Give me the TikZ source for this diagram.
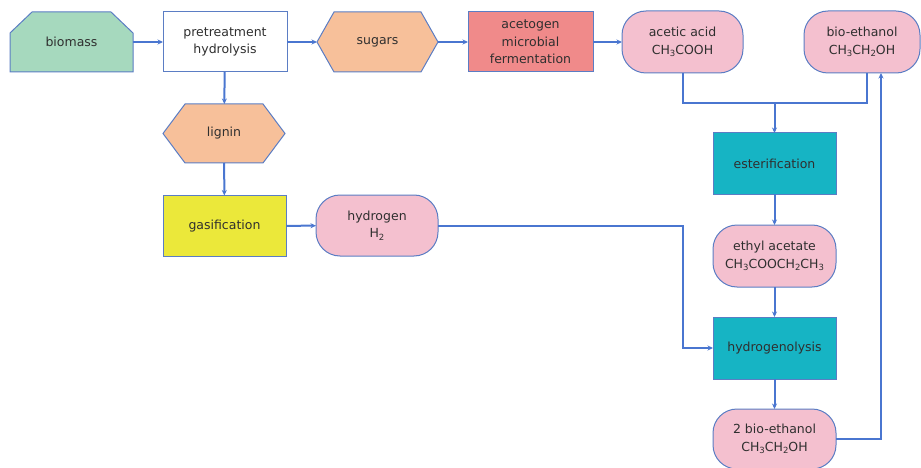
\documentclass[tikz,border=0pt]{standalone}
\usepackage{fontspec}
\setmainfont{DejaVu Sans}
\usetikzlibrary{arrows.meta,calc}
\pgfdeclarelayer{background}
\pgfsetlayers{background,main}

\definecolor{flowline}{HTML}{4A76D0}
\definecolor{edgeblue}{HTML}{5B7DC4}
\definecolor{txt}{HTML}{2F2F2F}
\definecolor{feedgreen}{HTML}{A6D9BE}
\definecolor{prodorange}{HTML}{F7C09A}
\definecolor{fermcoral}{HTML}{F08A8A}
\definecolor{chempink}{HTML}{F4C0CF}
\definecolor{gasyellow}{HTML}{EBE83A}
\definecolor{reactteal}{HTML}{16B4C4}

\newcommand\chs[1]{\raisebox{-0.4ex}{\fontsize{8.5}{9}\selectfont#1}}

% outline of a stretched hexagon around node #1 with tip depth #2, fill #3
\newcommand\hexoutline[3]{%
  \begin{pgfonlayer}{background}
  \filldraw[fill=#3,draw=edgeblue,line width=1pt]
    ([xshift=#2]#1.north west) -- ([xshift=-#2]#1.north east) -- (#1.east)
    -- ([xshift=-#2]#1.south east) -- ([xshift=#2]#1.south west) -- (#1.west) -- cycle;
  \end{pgfonlayer}}

\tikzset{
  lbl/.style={font=\fontsize{12.5}{17.5}\selectfont, text=txt, align=center,
    inner sep=0pt, outer sep=0pt},
  boxnode/.style={lbl, rectangle, draw=edgeblue, line width=1pt,
    minimum width=123pt, minimum height=61pt},
  pillnode/.style={boxnode, rounded corners=24pt, fill=chempink},
  bare/.style={lbl, rectangle, minimum height=60pt},
  flow/.style={draw=flowline, line width=2pt,
    -{Stealth[length=5.5pt,width=5pt]}},
  link/.style={draw=flowline, line width=2pt}
}

\begin{document}
\begin{tikzpicture}[x=1pt,y=-1pt]
\useasboundingbox (0,0) rectangle (921,468);

% top row
\node[bare, minimum width=123pt] (biomass) at (71.5,42) {biomass};
\begin{pgfonlayer}{background}
\filldraw[fill=feedgreen,draw=edgeblue,line width=1pt]
  ([xshift=22pt]biomass.north west) -- ([xshift=-22pt]biomass.north east)
  -- ([yshift=-21pt]biomass.north east) -- (biomass.south east)
  -- (biomass.south west) -- ([yshift=-21pt]biomass.north west) -- cycle;
\end{pgfonlayer}

\node[boxnode, fill=white, minimum width=124pt, minimum height=60pt] (pretreat) at (225,42)
  {pretreatment\\hydrolysis};
\node[bare, minimum width=121pt] (sugars) at (377.5,42) {sugars};
\hexoutline{sugars}{17pt}{prodorange}
\node[boxnode, fill=fermcoral, minimum width=125pt, minimum height=60pt] (acetogen) at (530.5,42)
  {acetogen\\microbial\\fermentation};
\node[pillnode, minimum width=121pt, minimum height=62pt] (acetic) at (682.5,42)
  {acetic acid\\CH\chs{3}COOH};
\node[pillnode, minimum width=116pt, minimum height=62pt] (bioeth) at (862,42)
  {bio-ethanol\\CH\chs{3}CH\chs{2}OH};

% left branch
\node[bare, minimum width=122pt, minimum height=59pt] (lignin) at (224,133.5) {lignin};
\hexoutline{lignin}{22pt}{prodorange}
\node[boxnode, fill=gasyellow] (gasif) at (224.5,226) {gasification};
\node[pillnode, minimum width=122pt] (hydrogen) at (377,225.5) {hydrogen\\H\chs{2}};

% right column
\node[boxnode, fill=reactteal] (ester) at (774.5,163.5) {esterification};
\node[pillnode, minimum height=62pt] (ethyl) at (774.5,256)
  {ethyl acetate\\CH\chs{3}COOCH\chs{2}CH\chs{3}};
\node[boxnode, fill=reactteal, minimum height=62pt] (hydrogenol) at (774.5,348) {hydrogenolysis};
\node[pillnode, minimum height=60pt] (twobio) at (774.5,439)
  {2 bio-ethanol\\CH\chs{3}CH\chs{2}OH};

% connectors
\draw[flow] (biomass) -- (pretreat);
\draw[flow] (pretreat) -- (sugars);
\draw[flow] (sugars) -- (acetogen);
\draw[flow] (acetogen) -- (acetic);
\draw[flow] (pretreat) -- (lignin);
\draw[flow] (lignin) -- (gasif);
\draw[flow] (gasif) -- (hydrogen);

\coordinate (join) at (774.5,103);
\draw[link] (acetic.south) |- (join) -| ([xshift=5pt]bioeth.south);
\draw[flow] (join) -- (ester.north);
\draw[flow] (ester) -- (ethyl);
\draw[flow] (ethyl) -- (hydrogenol);
\draw[flow] (hydrogenol) -- (twobio);
\draw[flow] (hydrogen.east) -- (hydrogen.east -| acetic.south) |- (hydrogenol.west);
\draw[flow] (twobio.east) -| ([xshift=19pt]bioeth.south);
\end{tikzpicture}
\end{document}
